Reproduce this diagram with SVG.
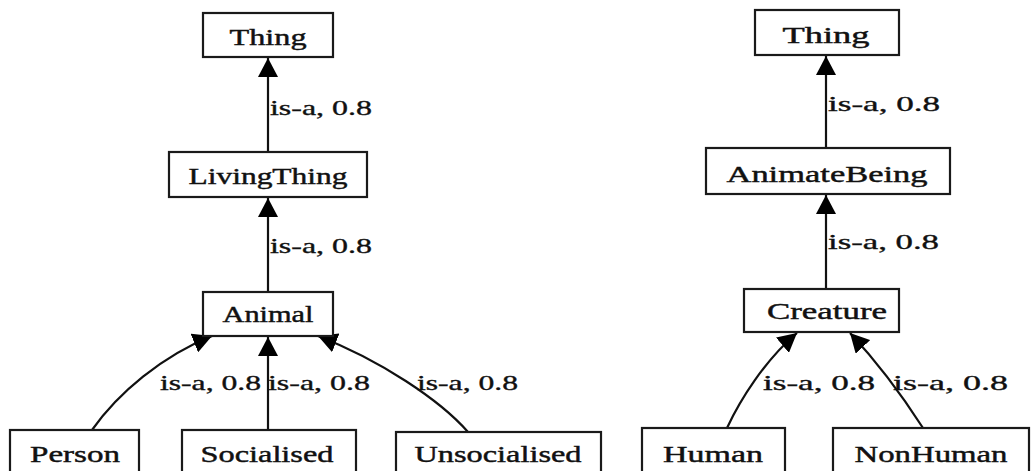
<svg xmlns="http://www.w3.org/2000/svg" width="1031" height="471" viewBox="0 0 1031 471">
  <style>
    .box { fill: #ffffff; stroke: #1a1a1a; stroke-width: 2.2; }
    .name { font-family: "Liberation Serif", "Times New Roman", serif; font-size: 24px; fill: #111; stroke: #111; stroke-width: 0.45; text-anchor: middle; }
    .lbl { font-family: "Liberation Serif", "Times New Roman", serif; font-size: 21px; fill: #111; stroke: #111; stroke-width: 0.35; }
    .edge { fill: none; stroke: #111; stroke-width: 2.2; marker-end: url(#arrow); }
  </style>
  <defs>
    <marker id="arrow" markerUnits="userSpaceOnUse" markerWidth="20" markerHeight="20" refX="19" refY="10" orient="auto">
      <path d="M0,0 L19,10 L0,20 z" fill="#000"/>
    </marker>
  </defs>
  <rect width="1031" height="471" fill="#ffffff"/>

  <!-- connectors -->
  <g id="connectors">
    <!-- left hierarchy -->
    <path class="edge" d="M268,152 L268,58"/>
    <path class="edge" d="M268,292 L268,198"/>
    <path class="edge" d="M92,430 C118,393 162,356 212,336"/>
    <path class="edge" d="M268,430 L268,337"/>
    <path class="edge" d="M468,432 C440,400 380,360 318,336"/>
    <!-- right hierarchy -->
    <path class="edge" d="M826,148 L826,56"/>
    <path class="edge" d="M826,289 L826,195"/>
    <path class="edge" d="M727,428 C740,400 765,360 797,333"/>
    <path class="edge" d="M923,428 C905,400 880,365 850,333"/>

    <text class="lbl" x="270" y="115" textLength="102" lengthAdjust="spacingAndGlyphs">is-a, 0.8</text>
    <text class="lbl" x="270" y="253" textLength="102" lengthAdjust="spacingAndGlyphs">is-a, 0.8</text>
    <text class="lbl" x="160" y="390" textLength="101" lengthAdjust="spacingAndGlyphs">is-a, 0.8</text>
    <text class="lbl" x="268" y="390" textLength="102" lengthAdjust="spacingAndGlyphs">is-a, 0.8</text>
    <text class="lbl" x="417" y="390" textLength="101" lengthAdjust="spacingAndGlyphs">is-a, 0.8</text>
    <text class="lbl" x="828" y="111" textLength="112" lengthAdjust="spacingAndGlyphs">is-a, 0.8</text>
    <text class="lbl" x="828" y="249" textLength="111" lengthAdjust="spacingAndGlyphs">is-a, 0.8</text>
    <text class="lbl" x="763" y="390" textLength="112" lengthAdjust="spacingAndGlyphs">is-a, 0.8</text>
    <text class="lbl" x="893" y="390" textLength="115" lengthAdjust="spacingAndGlyphs">is-a, 0.8</text>
  </g>

  <!-- left hierarchy nodes -->
  <g id="thing-left">
    <rect class="box" x="203" y="13" width="130" height="44"/>
    <text class="name" x="268" y="45" textLength="77" lengthAdjust="spacingAndGlyphs">Thing</text>
  </g>
  <g id="livingthing">
    <rect class="box" x="169" y="152" width="198" height="45"/>
    <text class="name" x="268" y="184" textLength="159" lengthAdjust="spacingAndGlyphs">LivingThing</text>
  </g>
  <g id="animal">
    <rect class="box" x="203" y="292" width="130" height="44"/>
    <text class="name" x="268" y="322" textLength="91" lengthAdjust="spacingAndGlyphs">Animal</text>
  </g>
  <g id="person">
    <rect class="box" x="10" y="430" width="129" height="60"/>
    <text class="name" x="75" y="462" textLength="90" lengthAdjust="spacingAndGlyphs">Person</text>
  </g>
  <g id="socialised">
    <rect class="box" x="182" y="430" width="174" height="60"/>
    <text class="name" x="267" y="462" textLength="133" lengthAdjust="spacingAndGlyphs">Socialised</text>
  </g>
  <g id="unsocialised">
    <rect class="box" x="396" y="432" width="205" height="60"/>
    <text class="name" x="498" y="462" textLength="167" lengthAdjust="spacingAndGlyphs">Unsocialised</text>
  </g>

  <!-- right hierarchy nodes -->
  <g id="thing-right">
    <rect class="box" x="755" y="10" width="144" height="45"/>
    <text class="name" x="826" y="43" textLength="87" lengthAdjust="spacingAndGlyphs">Thing</text>
  </g>
  <g id="animatebeing">
    <rect class="box" x="706" y="148" width="244" height="46"/>
    <text class="name" x="827" y="182" textLength="201" lengthAdjust="spacingAndGlyphs">AnimateBeing</text>
  </g>
  <g id="creature">
    <rect class="box" x="744" y="289" width="155" height="43"/>
    <text class="name" x="827" y="319" textLength="120" lengthAdjust="spacingAndGlyphs">Creature</text>
  </g>
  <g id="human">
    <rect class="box" x="642" y="428" width="143" height="60"/>
    <text class="name" x="713" y="462" textLength="100" lengthAdjust="spacingAndGlyphs">Human</text>
  </g>
  <g id="nonhuman">
    <rect class="box" x="833" y="428" width="196" height="60"/>
    <text class="name" x="931" y="462" textLength="153" lengthAdjust="spacingAndGlyphs">NonHuman</text>
  </g>
</svg>
